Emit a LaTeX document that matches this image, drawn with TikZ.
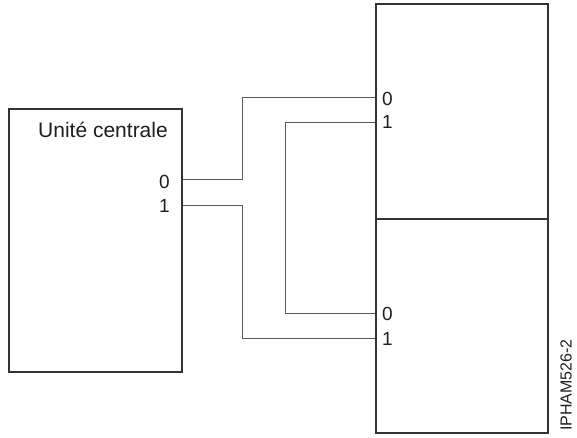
\documentclass[tikz,border=0pt]{standalone}
\usepackage{fontspec}
\setmainfont{Liberation Sans}
\usetikzlibrary{positioning}
\definecolor{boxline}{HTML}{333333}
\definecolor{wireline}{HTML}{5A5A5A}
\definecolor{inkgray}{HTML}{1E1E1E}
\tikzset{
  unitbox/.style={rectangle, draw=boxline, line width=1.3pt, inner sep=0pt},
  portlabel/.style={inner sep=0pt, text=inkgray, font=\fontsize{19}{21}\selectfont},
  wire/.style={draw=wireline, line width=1pt},
}

\begin{document}
\begin{tikzpicture}[x=1pt,y=-1pt]
  \useasboundingbox (0,0) rectangle (577,438);
  \node[unitbox, minimum width=173pt, minimum height=263pt] (cpu) at (95.5,240.5) {};
  \node[unitbox, minimum width=172pt, minimum height=215pt] (devA) at (462,111.5) {};
  \node[unitbox, minimum width=172pt, minimum height=214pt] (devB) at (462,326) {};
  \node[portlabel, anchor=base east, font=\fontsize{21}{24}\selectfont] (cpuname) at (168,138) {Unité centrale};
  \node[portlabel, anchor=east] (cpu0) at (170,181.5) {0};
  \node[portlabel, anchor=east] (cpu1) at (170,205.5) {1};
  \node[portlabel, anchor=west] (devA0) at (382,98.5) {0};
  \node[portlabel, anchor=west] (devA1) at (382,122) {1};
  \node[portlabel, anchor=west] (devB0) at (382,313.5) {0};
  \node[portlabel, anchor=west] (devB1) at (382,339) {1};
  \coordinate (c0) at (cpu.east |- 0,180);
  \coordinate (c1) at (cpu.east |- 0,205);
  \coordinate (a0) at (devA.west |- 0,98);
  \coordinate (a1) at (devA.west |- 0,123);
  \coordinate (b0) at (devB.west |- 0,313);
  \coordinate (b1) at (devB.west |- 0,338);
  \draw[wire] (c0) -- (242,180) |- (a0); \draw[wire] (c1) -- (242,205) |- (b1);
  \draw[wire] (a1) -- (285,123) |- (b0);
  \node[portlabel, rotate=90, font=\fontsize{16}{18}\selectfont] (figid) at (566,385) {IPHAM526-2};
\end{tikzpicture}
\end{document}
